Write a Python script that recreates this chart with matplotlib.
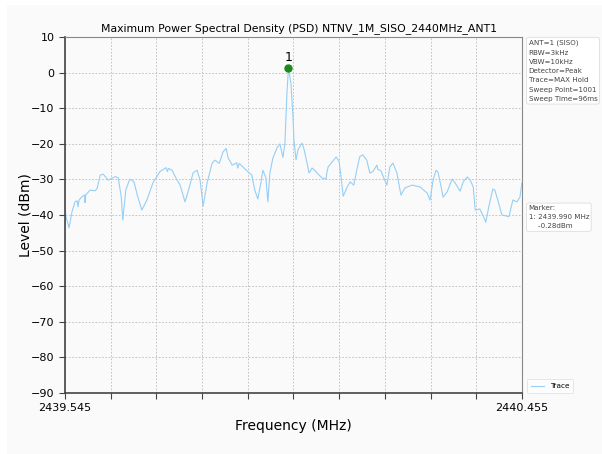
import matplotlib
matplotlib.use("Agg")
import matplotlib.pyplot as plt
from matplotlib.patches import Rectangle

# trace (MHz, dBm)
freq = [2439.545, 2439.547, 2439.553, 2439.559, 2439.565, 2439.569, 2439.571, 2439.573,
        2439.579, 2439.584, 2439.585, 2439.586, 2439.595, 2439.605, 2439.609, 2439.615,
        2439.621, 2439.631, 2439.645, 2439.651, 2439.657, 2439.660, 2439.666, 2439.674,
        2439.682, 2439.690, 2439.698, 2439.708, 2439.720, 2439.734, 2439.746, 2439.749,
        2439.751, 2439.758, 2439.768, 2439.774, 2439.784, 2439.790, 2439.800, 2439.808,
        2439.814, 2439.820, 2439.828, 2439.838, 2439.844, 2439.852, 2439.860, 2439.866,
        2439.870, 2439.878, 2439.887, 2439.889, 2439.892, 2439.909, 2439.917, 2439.923,
        2439.929, 2439.935, 2439.939, 2439.945, 2439.949, 2439.953, 2439.959, 2439.967,
        2439.973, 2439.979, 2439.983, 2439.987, 2439.990, 2439.995, 2439.999, 2440.001,
        2440.005, 2440.009, 2440.017, 2440.021, 2440.027, 2440.031, 2440.037, 2440.043,
        2440.049, 2440.057, 2440.065, 2440.066, 2440.069, 2440.077, 2440.085, 2440.091,
        2440.095, 2440.099, 2440.107, 2440.113, 2440.120, 2440.126, 2440.132, 2440.138,
        2440.146, 2440.152, 2440.158, 2440.166, 2440.168, 2440.174, 2440.180, 2440.186,
        2440.192, 2440.198, 2440.206, 2440.214, 2440.222, 2440.236, 2440.252, 2440.266,
        2440.272, 2440.278, 2440.284, 2440.288, 2440.294, 2440.298, 2440.306, 2440.316,
        2440.322, 2440.332, 2440.338, 2440.346, 2440.352, 2440.358, 2440.362, 2440.371,
        2440.377, 2440.383, 2440.389, 2440.397, 2440.401, 2440.407, 2440.415, 2440.425,
        2440.429, 2440.437, 2440.445, 2440.451, 2440.455]
level = [-38.0, -40.5, -43.6, -39.0, -36.3, -36.0, -37.7, -35.8,
         -34.8, -34.4, -36.5, -34.4, -33.0, -33.2, -32.5, -28.8,
         -28.5, -30.2, -29.2, -29.6, -34.9, -41.4, -33.0, -29.9,
         -30.6, -34.9, -38.6, -35.8, -31.0, -27.8, -26.7, -27.8,
         -26.9, -27.4, -30.2, -31.5, -36.3, -33.5, -28.2, -27.4,
         -30.2, -37.5, -31.0, -25.4, -24.6, -25.5, -22.2, -21.3,
         -24.0, -26.0, -25.3, -26.8, -25.5, -27.8, -28.8, -33.0,
         -35.5, -31.0, -27.4, -29.5, -36.3, -28.2, -24.0, -21.2,
         -20.0, -23.8, -19.8, -5.7, 1.2, -3.0, -12.5, -19.0,
         -24.5, -21.7, -19.8, -21.5, -25.4, -28.2, -26.8, -27.5,
         -28.5, -29.6, -29.9, -28.5, -26.5, -25.1, -23.7, -25.0,
         -29.6, -34.7, -32.1, -30.7, -31.6, -27.4, -23.6, -23.1,
         -24.6, -28.2, -27.8, -26.0, -27.2, -27.5, -29.6, -31.6,
         -26.5, -25.4, -28.2, -34.4, -32.4, -31.6, -32.1, -33.8,
         -35.8, -30.2, -27.4, -28.0, -32.1, -35.0, -33.5, -29.9,
         -31.0, -33.3, -30.7, -29.3, -30.2, -32.1, -38.6, -38.3,
         -40.0, -42.0, -37.7, -32.7, -33.0, -35.8, -40.0, -40.3,
         -40.5, -35.8, -36.3, -35.0, -31.0]

marker_freq = 2439.990
marker_level = 1.2
x_min, x_max = 2439.545, 2440.455
y_ticks = list(range(10, -91, -10))

settings_text = ("ANT=1 (SISO)\nRBW=3kHz\nVBW=10kHz\nDetector=Peak\n"
                 "Trace=MAX Hold\nSweep Point=1001\nSweep Time=96ms")
marker_text = "Marker:\n1: 2439.990 MHz\n    -0.28dBm"

bg = "#fafafa"
fig = plt.figure(figsize=(6.02, 4.54), dpi=100, facecolor="white")
fig.patches.append(Rectangle((0.012, 0.0), 0.988, 0.988, transform=fig.transFigure,
                             facecolor=bg, edgecolor="none", zorder=-10))
ax = fig.add_axes([0.108, 0.1344, 0.759, 0.784])
ax.set_facecolor(bg)

ax.plot(freq, level, color="#96cff5", linewidth=0.8, label="Trace")
ax.plot([marker_freq], [marker_level], "o", color="#1a8a1a", markersize=5)
ax.text(marker_freq, marker_level + 1.3, "1", ha="center", va="bottom", fontsize=9)

ax.set_xlim(x_min, x_max)
ax.set_ylim(-90, 10)
ax.set_yticks(y_ticks)
step = (x_max - x_min) / 10
ax.set_xticks([x_min + i * step for i in range(11)])
ax.set_xticklabels(["2439.545"] + [""] * 9 + ["2440.455"])
ax.tick_params(labelsize=8, length=4, color="#444444")
ax.grid(True, linestyle=(0, (2, 2)), color="#bbbbbb", linewidth=0.6)

for s in ax.spines.values():
    s.set_color("#888888")
    s.set_linewidth(0.8)
ax.spines["left"].set_color("#444444")
ax.spines["left"].set_linewidth(1.2)
ax.spines["bottom"].set_color("#444444")
ax.spines["bottom"].set_linewidth(1.2)

ax.set_title("Maximum Power Spectral Density (PSD) NTNV_1M_SISO_2440MHz_ANT1",
             fontsize=7.8, pad=4, x=0.512)
ax.set_xlabel("Frequency (MHz)", fontsize=10, labelpad=4)
ax.set_ylabel("Level (dBm)", fontsize=10, labelpad=-1)

box = dict(boxstyle="round,pad=0.3", facecolor="white", edgecolor="#dddddd", linewidth=0.6)
fig.text(0.878, 0.912, settings_text, fontsize=5.1, va="top", ha="left",
         color="#444444", linespacing=1.65, bbox=box)
fig.text(0.878, 0.548, marker_text, fontsize=5.1, va="top", ha="left",
         color="#444444", linespacing=1.6, bbox=box)

leg = ax.legend(loc="lower left", bbox_to_anchor=(1.003, -0.01), fontsize=5.3,
                frameon=True, handlelength=1.8, borderpad=0.5)
leg.get_frame().set_edgecolor("#dddddd")
leg.get_frame().set_linewidth(0.6)

fig.savefig("out.png", dpi=100, facecolor=fig.get_facecolor())
